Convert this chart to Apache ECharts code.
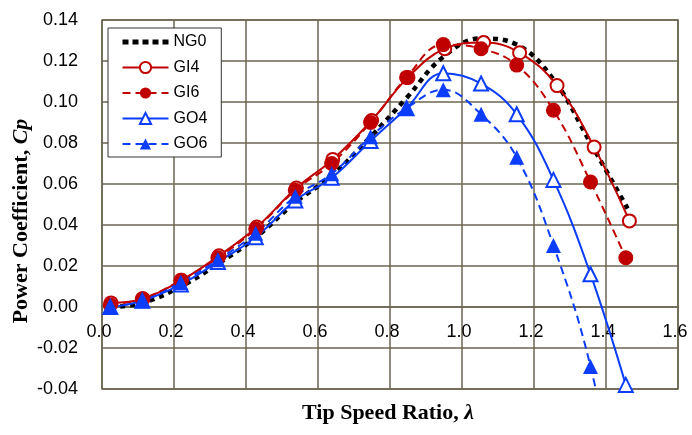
<!DOCTYPE html>
<html>
<head>
<meta charset="utf-8">
<script src="https://cdn.jsdelivr.net/npm/echarts@6/dist/echarts.min.js"></script>
<style>
html,body{margin:0;padding:0;background:#fff;}
#chart{width:692px;height:435px;}
</style>
</head>
<body>
<div id="chart"></div>
<script>
// ---- data ----
var seriesNames = ['NG0', 'GI4', 'GI6', 'GO4', 'GO6'];
var lambdaNG0 = [0.023, 0.112, 0.219, 0.322, 0.427, 0.537, 0.638, 0.746, 0.846, 0.948, 1.053, 1.152, 1.254, 1.357, 1.460];
var cpNG0     = [0.000, 0.002, 0.010, 0.021, 0.034, 0.051, 0.064, 0.083, 0.102, 0.122, 0.131, 0.128, 0.111, 0.080, 0.048];
var lambdaGI4 = [0.025, 0.114, 0.221, 0.325, 0.430, 0.540, 0.641, 0.749, 0.850, 0.952, 1.060, 1.160, 1.264, 1.367, 1.465];
var cpGI4     = [0.002, 0.004, 0.013, 0.025, 0.039, 0.058, 0.072, 0.091, 0.112, 0.126, 0.129, 0.124, 0.108, 0.078, 0.042];
var lambda    = [0.023, 0.112, 0.219, 0.322, 0.427, 0.537, 0.638, 0.746, 0.846, 0.948, 1.053, 1.152, 1.254, 1.357, 1.455];
var cpGI6     = [0.001, 0.004, 0.013, 0.024, 0.038, 0.057, 0.070, 0.090, 0.112, 0.128, 0.126, 0.118, 0.096, 0.061, 0.024];
var cpGO4     = [0.000, 0.003, 0.011, 0.022, 0.034, 0.052, 0.063, 0.081, 0.097, 0.114, 0.109, 0.094, 0.062, 0.016, -0.038];
var cpGO6     = [0.000, 0.003, 0.012, 0.023, 0.036, 0.054, 0.065, 0.083, 0.097, 0.106, 0.094, 0.073, 0.030, -0.029, -0.115];
var xTicks = {min: 0, max: 1.6, step: 0.2};
var yTicks = {min: -0.04, max: 0.14, step: 0.02};
var xTitle = 'Tip Speed Ratio, ';
var xTitleSym = 'λ';
var yTitle = 'Power Coefficient, ';
var yTitleSym = 'Cp';

function pairs(xs, ys) { return xs.map(function (x, i) { return [x, ys[i]]; }); }

var RED = '#c00000', BLUE = '#0b3dfa', GRID = '#6b6551';
var GRID_TOP = 20, GRID_BOTTOM = 46, H = 435;
var plotH = H - GRID_TOP - GRID_BOTTOM;
// distance from the bottom edge of the plot up to the zero line (x axis sits on y = 0)
var zeroOffset = plotH * (0 - yTicks.min) / (yTicks.max - yTicks.min);

var chart = echarts.init(document.getElementById('chart'), null, {renderer: 'canvas'});
var tickFont = {fontFamily: 'Liberation Sans, Arial, sans-serif', fontSize: 18, color: '#000'};

chart.setOption({
  animation: false,
  backgroundColor: '#fff',
  grid: {left: 102, right: 14, top: GRID_TOP, bottom: GRID_BOTTOM, show: true, borderColor: GRID, borderWidth: 1.5, backgroundColor: '#fff'},
  xAxis: {
    type: 'value', min: xTicks.min, max: xTicks.max, interval: xTicks.step,
    offset: -zeroOffset,
    axisLine: {show: true, onZero: false, lineStyle: {color: GRID, width: 1.5}},
    axisTick: {show: false},
    splitLine: {show: true, lineStyle: {color: GRID, width: 1.5}},
    axisLabel: Object.assign({margin: 16, padding: [0, 6, 0, 0], formatter: function (v) { return v.toFixed(1); }}, tickFont)
  },
  yAxis: {
    type: 'value', min: yTicks.min, max: yTicks.max, interval: yTicks.step,
    axisLine: {show: false},
    axisTick: {show: false},
    splitLine: {show: true, lineStyle: {color: GRID, width: 1.5}},
    axisLabel: Object.assign({margin: 24, formatter: function (v) { var s = v.toFixed(2); return s === '-0.00' ? '0.00' : s; }}, tickFont)
  },
  legend: {
    orient: 'vertical', left: 108, top: 28,
    data: [{name: 'NG0', itemStyle: {opacity: 0}, lineStyle: {width: 5, type: [6, 4]}}, 'GI4', 'GI6', 'GO4', 'GO6'],
    backgroundColor: '#fff', borderColor: '#333', borderWidth: 1,
    padding: [6, 14, 5, 12],
    itemWidth: 46, itemHeight: 14, itemGap: 9.5,
    textStyle: {fontFamily: 'Liberation Sans, Arial, sans-serif', fontSize: 16, color: '#000'}
  },
  graphic: [
    {type: 'text', x: 21, y: 221, rotation: Math.PI / 2,
     style: {text: '{b|' + yTitle + '}{i|' + yTitleSym + '}', align: 'center', verticalAlign: 'middle',
       rich: {b: {fontFamily: 'Liberation Serif, Times New Roman, serif', fontWeight: 'bold', fontSize: 22, fill: '#000'},
              i: {fontFamily: 'Liberation Serif, Times New Roman, serif', fontWeight: 'bold', fontStyle: 'italic', fontSize: 22, fill: '#000'}}}},
    {type: 'text', x: 388, y: 413,
     style: {text: '{b|' + xTitle + '}{i|' + xTitleSym + '}', align: 'center', verticalAlign: 'middle',
       rich: {b: {fontFamily: 'Liberation Serif, Times New Roman, serif', fontWeight: 'bold', fontSize: 22, fill: '#000'},
              i: {fontFamily: 'Liberation Serif, Times New Roman, serif', fontWeight: 'bold', fontStyle: 'italic', fontSize: 22, fill: '#000'}}}}
  ],
  series: [
    {name: 'NG0', type: 'line', smooth: 0.4, symbol: 'none', data: pairs(lambdaNG0, cpNG0),
     lineStyle: {color: '#000', width: 4.5, type: [5, 5], cap: 'butt'}, itemStyle: {color: '#000'}},
    {name: 'GI4', type: 'line', smooth: 0.4, symbol: 'circle', symbolSize: 13, data: pairs(lambdaGI4, cpGI4),
     lineStyle: {color: RED, width: 2}, itemStyle: {color: '#fff', borderColor: RED, borderWidth: 2}},
    {name: 'GI6', type: 'line', smooth: 0.4, symbol: 'circle', symbolSize: 15, data: pairs(lambda, cpGI6),
     lineStyle: {color: RED, width: 2, type: [8, 5]}, itemStyle: {color: RED}},
    {name: 'GO4', type: 'line', smooth: 0.4, symbol: 'triangle', symbolSize: 14, data: pairs(lambda, cpGO4),
     lineStyle: {color: BLUE, width: 2}, itemStyle: {color: '#fff', borderColor: BLUE, borderWidth: 2}},
    {name: 'GO6', type: 'line', smooth: 0.4, symbol: 'triangle', symbolSize: 15, data: pairs(lambda, cpGO6),
     lineStyle: {color: BLUE, width: 2, type: [8, 5]}, itemStyle: {color: BLUE}}
  ]
});
</script>
</body>
</html>
